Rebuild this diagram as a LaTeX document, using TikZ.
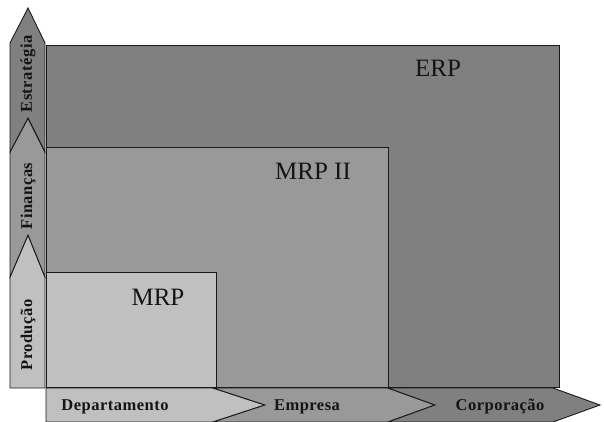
\documentclass[tikz,border=0pt]{standalone}
\usepackage{fontspec}
\setmainfont{Liberation Serif}
\definecolor{gA}{HTML}{C0C0C0}
\definecolor{gB}{HTML}{999999}
\definecolor{gC}{HTML}{808080}
\definecolor{edge}{HTML}{1A1A1A}
\tikzset{
  shapeline/.style={draw=edge, line width=0.9pt, line join=miter},
  biglabel/.style={font=\fontsize{25}{25}\selectfont, inner sep=0pt, text=black!92},
  axlabel/.style={font=\fontsize{16.5}{16.5}\selectfont\bfseries\addfontfeature{LetterSpace=3}, inner sep=0pt, text=black!92},
}
\begin{document}
\begin{tikzpicture}[x=1pt,y=-1pt]
\useasboundingbox (0,0) rectangle (604,422);
% rectangles
\path[shapeline, fill=gC] (46,45) rectangle (559,387);
\path[shapeline, fill=gB] (46,147) rectangle (388,387);
\path[shapeline, fill=gA] (46,272) rectangle (216,387);
% left column
\path[shapeline, fill=gA] (10,388) -- (45,388) -- (45,277) -- (28,235) -- (10,277) -- cycle;
\path[shapeline, fill=gB] (10,277) -- (28,235) -- (45,277) -- (45,152) -- (28,118) -- (10,152) -- cycle;
\path[shapeline, fill=gC] (10,152) -- (28,118) -- (45,152) -- (45,43) -- (28,8) -- (10,43) -- cycle;
% bottom row
\path[shapeline, fill=gA] (46,388) -- (213,388) -- (265,405) -- (213,422) -- (46,422) -- cycle;
\path[shapeline, fill=gB] (213,388) -- (388,388) -- (435,405) -- (388,422) -- (213,422) -- (265,405) -- cycle;
\path[shapeline, fill=gC] (388,388) -- (553,388) -- (600,405) -- (553,422) -- (388,422) -- (435,405) -- cycle;
% labels
\node[biglabel] (erp) at (438,68) {ERP};
\node[biglabel] (mrp2) at (313,171) {MRP II};
\node[biglabel] (mrp) at (158,297) {MRP};
\node[axlabel] (dep) at (115,407) {Departamento};
\node[axlabel] (emp) at (307,407) {Empresa};
\node[axlabel] (cor) at (500,407) {Corporação};
\node[axlabel, rotate=90] (est) at (28,74) {Estratégia};
\node[axlabel, rotate=90] (fin) at (28,196) {Finanças};
\node[axlabel, rotate=90] (pro) at (28,335) {Produção};
\end{tikzpicture}
\end{document}
